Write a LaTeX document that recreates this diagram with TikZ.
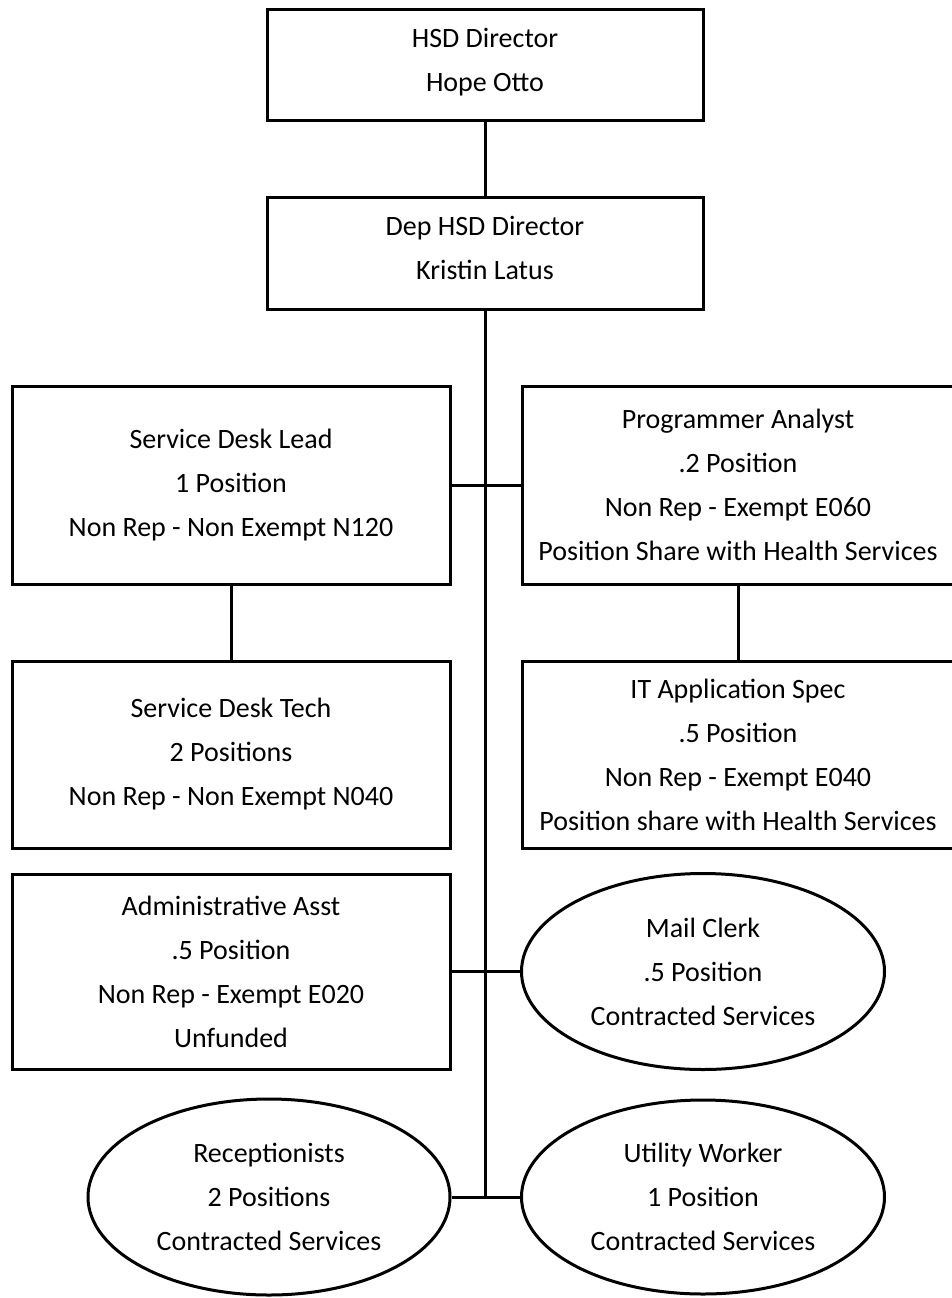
\documentclass[tikz,border=0pt]{standalone}
\usepackage{fontspec}
\setmainfont{Carlito}
\usetikzlibrary{shapes.geometric}
\begin{document}
\begin{tikzpicture}[x=1pt,y=-1pt,
  lbl/.style={align=center, inner sep=0pt, font=\fontsize{28}{44}\selectfont},
  unitbox/.style={lbl, draw, rectangle, line width=3pt},
  contract/.style={lbl, draw, ellipse, line width=3pt},
  link/.style={line width=3pt}]
\useasboundingbox (0,0) rectangle (952,1298);

% leadership (text sits a little above the box centre)
\node[unitbox, minimum width=436pt, minimum height=110pt] (hsd) at (485,65)
  {HSD Director\\Hope Otto\\[-34pt]\mbox{}};
\node[unitbox, minimum width=436pt, minimum height=112pt] (dep) at (485,253)
  {Dep HSD Director\\Kristin Latus\\[-34pt]\mbox{}};

% staff boxes
\node[unitbox, minimum width=438pt, minimum height=198pt] (sdl) at (231,485)
  {Service Desk Lead\\1 Position\\Non Rep - Non Exempt N120};
\node[unitbox, minimum width=432pt, minimum height=198pt] (pa) at (738,485)
  {Programmer Analyst\\.2 Position\\Non Rep - Exempt E060\\Position Share with Health Services};
\node[unitbox, minimum width=438pt, minimum height=187pt] (sdt) at (231,754.5)
  {Service Desk Tech\\2 Positions\\Non Rep - Non Exempt N040};
\node[unitbox, minimum width=432pt, minimum height=187pt] (its) at (738,754.5)
  {IT Application Spec\\.5 Position\\Non Rep - Exempt E040\\Position share with Health Services};
\node[unitbox, minimum width=438pt, minimum height=195pt] (adm) at (231,971.5)
  {Administrative Asst\\.5 Position\\Non Rep - Exempt E020\\Unfunded};

% contracted services
\node[contract, minimum width=363pt, minimum height=196pt] (mail) at (703,971.5)
  {Mail Clerk\\.5 Position\\Contracted Services};
\node[contract, minimum width=362pt, minimum height=196pt] (rec) at (269,1197)
  {Receptionists\\2 Positions\\Contracted Services};
\node[contract, minimum width=363pt, minimum height=194pt] (util) at (703,1197)
  {Utility Worker\\1 Position\\Contracted Services};

% connectors
\coordinate (trunkend) at (dep.south |- rec.east);
\draw[link] (hsd.south) -- (dep.north);
\draw[link] (dep.south) -- (trunkend);
\draw[link] (sdl.east) -- (pa.west);
\draw[link] (sdl.south) -- (sdt.north);
\draw[link] (pa.south) -- (its.north);
\draw[link] (adm.east) -- (mail.west);
\draw[link] (rec.east) -- (util.west);
\end{tikzpicture}
\end{document}
